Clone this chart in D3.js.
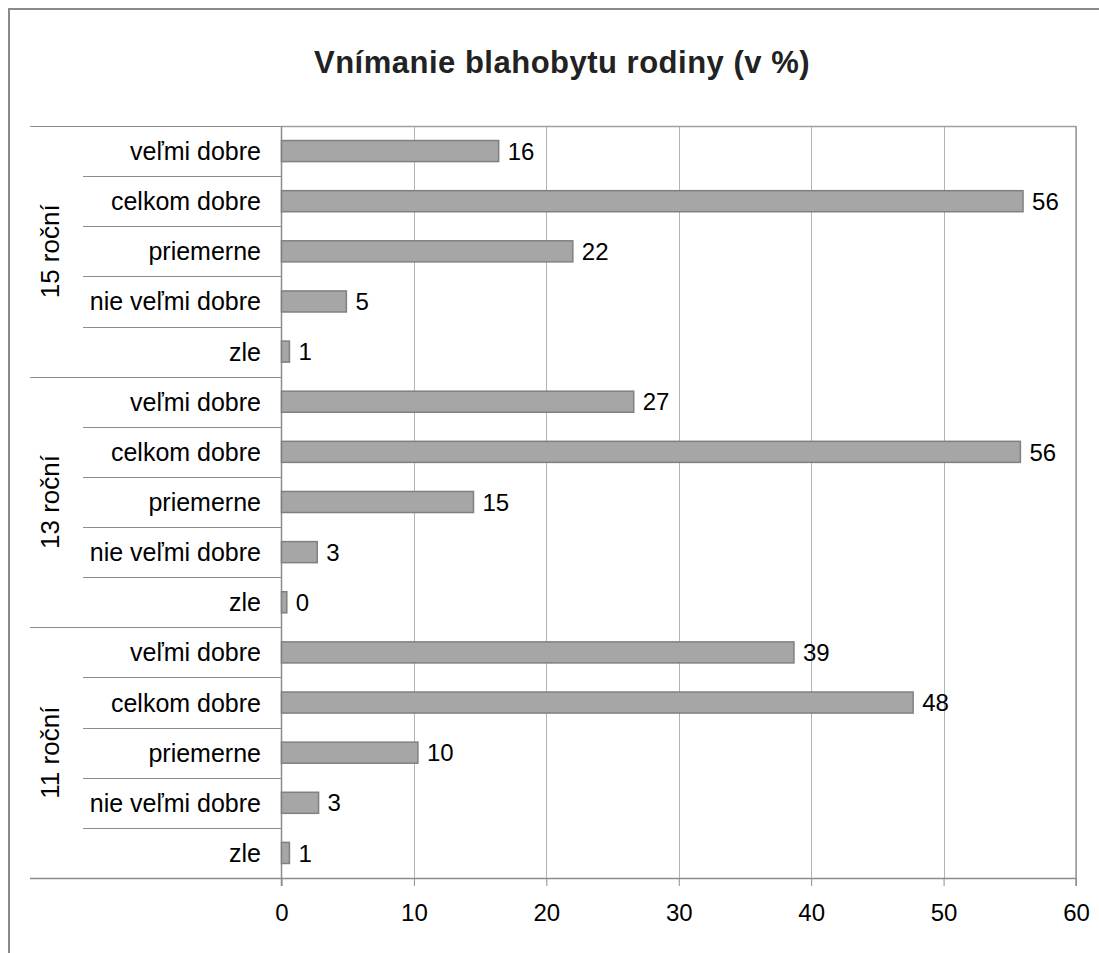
<!DOCTYPE html>
<html>
<head>
<meta charset="utf-8">
<script src="https://cdn.jsdelivr.net/npm/d3@7"></script>
<style>
  html, body { margin: 0; padding: 0; background: #fff; }
  svg { display: block; font-family: "Liberation Sans", Arial, sans-serif; }
</style>
</head>
<body>
<svg id="chart" width="1099" height="953"></svg>
<script>
// Age groups, top to bottom
const groups = ["15 roční", "13 roční", "11 roční"];
// Answer categories inside each group, top to bottom
const answers = ["veľmi dobre", "celkom dobre", "priemerne", "nie veľmi dobre", "zle"];
// Percentages per group, in the order of `answers`
const values15 = [16.4, 56.0, 22.0, 4.9, 0.6];
const values13 = [26.6, 55.8, 14.5, 2.7, 0.4];
const values11 = [38.7, 47.7, 10.3, 2.8, 0.6];
const xTicks = [0, 10, 20, 30, 40, 50, 60];
const title = "Vnímanie blahobytu rodiny (v %)";

const seriesByGroup = [values15, values13, values11];
const rows = [];
groups.forEach((g, gi) => {
  answers.forEach((a, ai) => {
    rows.push({ key: g + "|" + a, group: g, answer: a, value: seriesByGroup[gi][ai], first: ai === 0 });
  });
});

const svg = d3.select("#chart");
const plot = { left: 281.5, right: 1076, top: 126, bottom: 878 };

const x = d3.scaleLinear().domain([0, 60]).range([plot.left, plot.right]);
const y = d3.scaleBand()
  .domain(rows.map(d => d.key))
  .range([plot.top, plot.bottom])
  .paddingInner(0.58)
  .paddingOuter(0.29);
const step = y.step();
const rowTop = k => y(k) - y.paddingOuter() * step;

// Outer frame
svg.append("rect")
  .attr("x", 9).attr("y", 9)
  .attr("width", 1110).attr("height", 960)
  .attr("fill", "none").attr("stroke", "#8a8a8a").attr("stroke-width", 2);

// Title
svg.append("text")
  .attr("x", 562).attr("y", 73)
  .attr("text-anchor", "middle")
  .attr("font-size", 31).attr("font-weight", "bold")
  .attr("letter-spacing", 0.5)
  .attr("fill", "#222")
  .text(title);

// Vertical gridlines
svg.append("g").selectAll("line")
  .data(xTicks.filter(t => t > 0))
  .join("line")
  .attr("x1", d => Math.round(x(d)) + 0.5).attr("x2", d => Math.round(x(d)) + 0.5)
  .attr("y1", plot.top).attr("y2", plot.bottom)
  .attr("stroke", "#b3b3b3").attr("stroke-width", 1);

// Top border of plot
svg.append("line")
  .attr("x1", plot.left).attr("x2", plot.right)
  .attr("y1", plot.top + 0.5).attr("y2", plot.top + 0.5)
  .attr("stroke", "#a0a0a0").attr("stroke-width", 1.5);

// Right border of plot
svg.append("line")
  .attr("x1", plot.right).attr("x2", plot.right)
  .attr("y1", plot.top).attr("y2", plot.bottom + 8)
  .attr("stroke", "#9a9a9a").attr("stroke-width", 1.5);

// Row separators on the category axis: full width at group starts, short otherwise
svg.append("g").selectAll("line")
  .data(rows)
  .join("line")
  .attr("x1", d => d.first ? 30 : 83)
  .attr("x2", plot.left)
  .attr("y1", d => Math.round(rowTop(d.key)) + 0.5)
  .attr("y2", d => Math.round(rowTop(d.key)) + 0.5)
  .attr("stroke", "#8c8c8c").attr("stroke-width", 1);

// Bottom axis
const xAxis = d3.axisBottom(x).tickValues(xTicks).tickSize(8).tickPadding(18).tickFormat(d3.format("d"));
const gx = svg.append("g")
  .attr("transform", `translate(0,${plot.bottom})`)
  .call(xAxis);
gx.select(".domain").remove();
gx.selectAll(".tick line").attr("stroke", "#8c8c8c");
gx.selectAll(".tick text")
  .attr("font-size", 24).attr("fill", "#000")
  .attr("font-family", "Liberation Sans, Arial, sans-serif");
svg.append("line")
  .attr("x1", 30).attr("x2", plot.right)
  .attr("y1", plot.bottom + 0.5).attr("y2", plot.bottom + 0.5)
  .attr("stroke", "#8c8c8c").attr("stroke-width", 1.5);

// Left value axis line
svg.append("line")
  .attr("x1", plot.left).attr("x2", plot.left)
  .attr("y1", plot.top).attr("y2", plot.bottom + 8)
  .attr("stroke", "#8c8c8c").attr("stroke-width", 1.5);

// Bars
svg.append("g").selectAll("rect")
  .data(rows)
  .join("rect")
  .attr("x", x(0))
  .attr("y", d => y(d.key))
  .attr("width", d => x(d.value) - x(0))
  .attr("height", y.bandwidth())
  .attr("fill", "#a6a6a6")
  .attr("stroke", "#808080").attr("stroke-width", 1.5);

// Value labels
svg.append("g").selectAll("text")
  .data(rows)
  .join("text")
  .attr("x", d => x(d.value) + 9)
  .attr("y", d => y(d.key) + y.bandwidth() / 2)
  .attr("dy", "0.36em")
  .attr("font-size", 24).attr("fill", "#000")
  .text(d => d3.format(".0f")(d.value));

// Answer labels
svg.append("g").selectAll("text")
  .data(rows)
  .join("text")
  .attr("x", 261)
  .attr("y", d => y(d.key) + y.bandwidth() / 2)
  .attr("dy", "0.36em")
  .attr("text-anchor", "end")
  .attr("font-size", 25).attr("fill", "#000")
  .text(d => d.answer);

// Group labels, rotated
svg.append("g").selectAll("text")
  .data(groups)
  .join("text")
  .attr("transform", g => {
    const ks = rows.filter(r => r.group === g).map(r => r.key);
    const cy = (rowTop(ks[0]) + rowTop(ks[ks.length - 1]) + step) / 2;
    return `translate(50,${cy}) rotate(-90)`;
  })
  .attr("dy", "0.36em")
  .attr("text-anchor", "middle")
  .attr("font-size", 26).attr("fill", "#000")
  .text(g => g);
</script>
</body>
</html>
